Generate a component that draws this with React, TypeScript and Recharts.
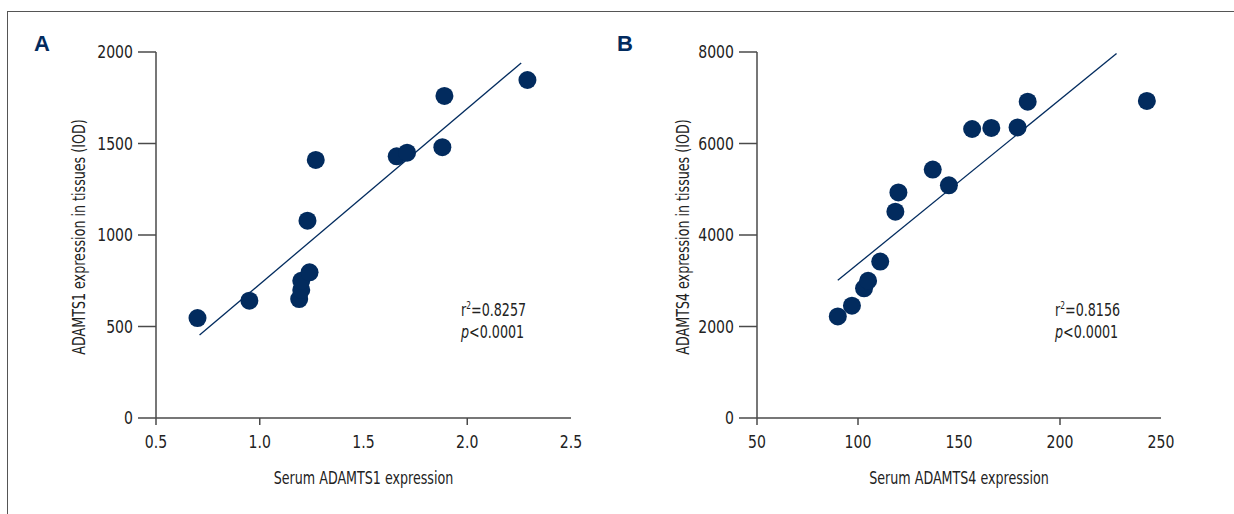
import React from 'react'
import {
    ScatterChart,
    Scatter,
    XAxis,
    YAxis,
    ReferenceLine,
} from 'recharts'

// Panel A: serum vs tissue ADAMTS1
const serumA = [0.70, 0.95, 1.19, 1.20, 1.20, 1.24, 1.23, 1.27, 1.66, 1.71, 1.88, 1.89, 2.29]
const tissueA = [546, 641, 650, 700, 750, 796, 1078, 1410, 1430, 1450, 1480, 1760, 1847]
const fitA = [{ x: 0.71, y: 453 }, { x: 2.26, y: 1940 }]
const xTicksA = [0.5, 1.0, 1.5, 2.0, 2.5]
const xTickMarksA = [0.5, 1.0, 2.0]
const yTicksA = [0, 500, 1000, 1500, 2000]

// Panel B: serum vs tissue ADAMTS4
const serumB = [90, 97, 103, 105, 111, 118.5, 120, 137, 145, 156.5, 166, 179, 184, 243]
const tissueB = [2220, 2455, 2834, 3000, 3420, 4510, 4930, 5430, 5085, 6317, 6340, 6350, 6915, 6930]
const fitB = [{ x: 90, y: 3010 }, { x: 228, y: 7965 }]
const xTicksB = [50, 100, 150, 200, 250]
const xTickMarksB = [50, 100, 200]
const yTicksB = [0, 2000, 4000, 6000, 8000]

const NAVY = '#022b5e'
const AXIS = '#4a4a4a'
const TEXT = '#222'
const FONT = '"DejaVu Sans Condensed", "Noto Sans", sans-serif'
// the original uses a condensed face; squeeze the glyphs horizontally
const SQUEEZE_NUM = 0.92
const SQUEEZE_TXT = 0.83

const toPoints = (xs: number[], ys: number[]) => xs.map((x, i) => ({ x, y: ys[i] }))

const Dot = (props: any) => <circle cx={props.cx} cy={props.cy} r={9} fill={NAVY} />

const makeXTick = (marks: number[], fmt: (v: number) => string) => (props: any) => {
    const { x, y, payload } = props
    return (
        <g>
            {marks.includes(payload.value) && (
                <line x1={x} x2={x} y1={y} y2={y + 7} stroke={AXIS} strokeWidth={1.5} />
            )}
            <text
                transform={`translate(${x},${y + 30}) scale(${SQUEEZE_NUM},1)`}
                textAnchor="middle"
                fill={TEXT}
                fontSize={17}
                fontFamily={FONT}
            >
                {fmt(payload.value)}
            </text>
        </g>
    )
}

const YTick = (props: any) => {
    const { x, y, payload } = props
    return (
        <text
            transform={`translate(${x},${y}) scale(${SQUEEZE_NUM},1)`}
            textAnchor="end"
            dy="0.36em"
            fill={TEXT}
            fontSize={17}
            fontFamily={FONT}
        >
            {payload.value}
        </text>
    )
}

const xTitle = (value: string) => (props: any) => {
    const vb = props.viewBox
    return (
        <text
            transform={`translate(${vb.x + vb.width / 2},${vb.y + vb.height - 30}) scale(${SQUEEZE_TXT},1)`}
            textAnchor="middle"
            fill={TEXT}
            fontSize={17}
            fontFamily={FONT}
        >
            {value}
        </text>
    )
}

const yTitle = (value: string, offset: number) => (props: any) => {
    const vb = props.viewBox
    return (
        <text
            transform={`translate(${vb.x + offset},${vb.y + vb.height / 2 + 2}) rotate(-90) scale(${SQUEEZE_TXT},1)`}
            textAnchor="middle"
            dy="0.36em"
            fill={TEXT}
            fontSize={17}
            fontFamily={FONT}
        >
            {value}
        </text>
    )
}

interface PanelProps {
    data: { x: number, y: number }[]
    fit: { x: number, y: number }[]
    xDomain: [number, number]
    yDomain: [number, number]
    xTicks: number[]
    xTickMarks: number[]
    yTicks: number[]
    xFmt: (v: number) => string
    xTitle: string
    yTitle: string
    width: number
    yAxisWidth: number
    rightMargin: number
    yTitleOffset: number
}

function Panel(p: PanelProps) {
    return (
        <ScatterChart width={p.width} height={514} margin={{ top: 52, right: p.rightMargin, bottom: 0, left: 0 }}>
            <XAxis
                type="number"
                dataKey="x"
                domain={p.xDomain}
                ticks={p.xTicks}
                interval={0}
                height={96}
                tickSize={0}
                tickMargin={0}
                tickLine={false}
                axisLine={{ stroke: AXIS, strokeWidth: 1.5 }}
                tick={makeXTick(p.xTickMarks, p.xFmt)}
                label={{ content: xTitle(p.xTitle) }}
            />
            <YAxis
                type="number"
                dataKey="y"
                domain={p.yDomain}
                ticks={p.yTicks}
                interval={0}
                width={p.yAxisWidth}
                tickSize={18}
                tickMargin={5}
                tickLine={{ stroke: AXIS, strokeWidth: 1.5 }}
                axisLine={{ stroke: AXIS, strokeWidth: 1.5 }}
                tick={YTick}
                label={{ content: yTitle(p.yTitle, p.yTitleOffset) }}
            />
            <ReferenceLine segment={p.fit} stroke={NAVY} strokeWidth={1.3} />
            <Scatter data={p.data} shape={Dot} isAnimationActive={false} />
        </ScatterChart>
    )
}

const Annotation = ({ left, r2 }: { left: number, r2: string }) => (
    <div style={{
        position: 'absolute', left, top: 299, fontFamily: FONT, fontSize: 17, lineHeight: '22px', color: TEXT,
        transform: `scaleX(${SQUEEZE_TXT})`, transformOrigin: 'left top', whiteSpace: 'nowrap',
    }}>
        <div>
            r<span style={{ position: 'relative', top: -7, fontSize: 10, lineHeight: 0 }}>2</span>={r2}
        </div>
        <div><i>p</i>&lt;0.0001</div>
    </div>
)

const PanelLetter = ({ left, letter }: { left: number, letter: string }) => (
    <div style={{ position: 'absolute', left, top: 33, fontFamily: '"Liberation Sans", Arial, sans-serif', fontWeight: 'bold', fontSize: 22, lineHeight: '22px', color: NAVY }}>
        {letter}
    </div>
)

export default function App() {
    return (
        <div style={{ position: 'absolute', left: 0, top: 0, width: 1234, height: 514, background: '#fff', overflow: 'hidden' }}>
            <div style={{ position: 'absolute', left: 7, top: 11, width: 1240, height: 520, borderLeft: '1.5px solid #555', borderTop: '1.5px solid #555' }} />
            <div style={{ position: 'absolute', left: 0, top: 0 }}>
                <Panel
                    data={toPoints(serumA, tissueA)}
                    fit={fitA}
                    xDomain={[0.5, 2.5]}
                    yDomain={[0, 2000]}
                    xTicks={xTicksA}
                    xTickMarks={xTickMarksA}
                    yTicks={yTicksA}
                    xFmt={(v) => v.toFixed(1)}
                    xTitle="Serum ADAMTS1 expression"
                    yTitle="ADAMTS1 expression in tissues (IOD)"
                    width={600}
                    yAxisWidth={156}
                    rightMargin={29}
                    yTitleOffset={79}
                />
            </div>
            <div style={{ position: 'absolute', left: 600, top: 0 }}>
                <Panel
                    data={toPoints(serumB, tissueB)}
                    fit={fitB}
                    xDomain={[50, 250]}
                    yDomain={[0, 8000]}
                    xTicks={xTicksB}
                    xTickMarks={xTickMarksB}
                    yTicks={yTicksB}
                    xFmt={(v) => String(v)}
                    xTitle="Serum ADAMTS4 expression"
                    yTitle="ADAMTS4 expression in tissues (IOD)"
                    width={634}
                    yAxisWidth={157}
                    rightMargin={73}
                    yTitleOffset={83}
                />
            </div>
            <PanelLetter left={34} letter="A" />
            <PanelLetter left={617} letter="B" />
            <Annotation left={461} r2="0.8257" />
            <Annotation left={1055} r2="0.8156" />
        </div>
    )
}
